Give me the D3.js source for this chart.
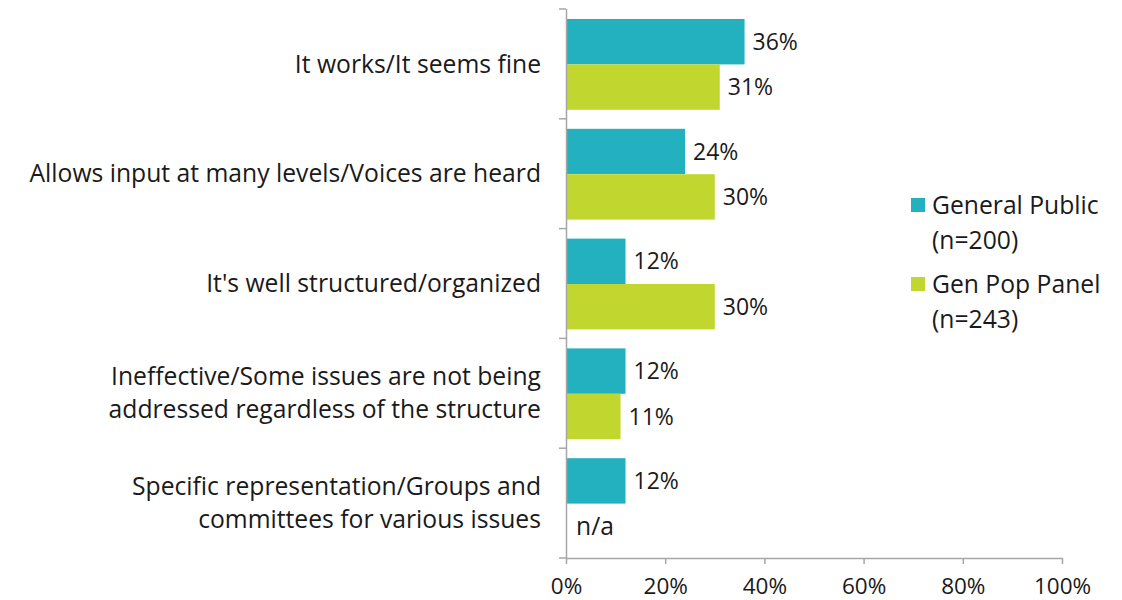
<!DOCTYPE html>
<html>
<head>
<meta charset="utf-8">
<script src="https://cdn.jsdelivr.net/npm/d3@7"></script>
<style>
  html, body { margin: 0; padding: 0; background: #fff; }
  svg text { font-family: "Open Sans", Lato, sans-serif; fill: #1a1a1a; }
</style>
</head>
<body>
<svg id="chart" width="1122" height="600"></svg>
<script>
// Categories (multi-line labels split by "\n")
const categories = [
  "It works/It seems fine",
  "Allows input at many levels/Voices are heard",
  "It's well structured/organized",
  "Ineffective/Some issues are not being\naddressed regardless of the structure",
  "Specific representation/Groups and\ncommittees for various issues"
];
const seriesNames = ["General Public\n(n=200)", "Gen Pop Panel\n(n=243)"];
const generalPublic = [36, 24, 12, 12, 12];
const genPopPanel = [31, 30, 30, 11, null];
const xTicks = [0, 20, 40, 60, 80, 100];
const colors = ["#23b1bf", "#c1d72f"];

const svg = d3.select("#chart");
const textSize = 24.7;   // category and legend text
const numSize = 23;      // value labels
const tickSize = 22.5;   // axis tick labels

const x = d3.scaleLinear().domain([0, 100]).range([566, 1062]);
const y = d3.scaleBand().domain(d3.range(categories.length)).range([9, 558]).paddingInner(0).paddingOuter(0);
const sub = d3.scaleBand().domain([0, 1]).range([10, y.bandwidth() - 9]);

const series = [generalPublic, genPopPanel];

// Bars
series.forEach((vals, si) => {
  const g = svg.append("g");
  vals.forEach((v, i) => {
    const yy = y(i) + sub(si);
    if (v == null) {
      g.append("text")
        .attr("x", x(0) + 10)
        .attr("y", yy + sub.bandwidth() / 2)
        .attr("dy", "0.35em")
        .attr("font-size", textSize)
        .text("n/a");
      return;
    }
    g.append("rect")
      .attr("x", x(0))
      .attr("y", yy)
      .attr("width", x(v) - x(0))
      .attr("height", sub.bandwidth())
      .attr("fill", colors[si]);
    g.append("text")
      .attr("x", x(v) + 8)
      .attr("y", yy + sub.bandwidth() / 2)
      .attr("dy", "0.35em")
      .attr("font-size", numSize)
      .text(v + "%");
  });
});

// Y axis line with ticks at band boundaries
const axisColor = "#a6a6a6";
svg.append("line")
  .attr("x1", x(0) + 0.5).attr("x2", x(0) + 0.5)
  .attr("y1", y(0)).attr("y2", 558)
  .attr("stroke", axisColor).attr("stroke-width", 1.5);
d3.range(categories.length + 1).forEach(i => {
  const yy = i < categories.length ? y(i) : 558;
  svg.append("line")
    .attr("x1", x(0) - 7).attr("x2", x(0))
    .attr("y1", yy).attr("y2", yy)
    .attr("stroke", axisColor).attr("stroke-width", 1.5);
});

// X axis
const xAxis = d3.axisBottom(x)
  .tickValues(xTicks)
  .tickFormat(d => d + "%")
  .tickSizeInner(6)
  .tickSizeOuter(0)
  .tickPadding(14);
const gx = svg.append("g").attr("transform", "translate(0,558)").call(xAxis);
gx.select(".domain").attr("stroke", axisColor).attr("stroke-width", 1.5);
gx.selectAll(".tick line").attr("stroke", axisColor).attr("stroke-width", 1.5);
gx.selectAll(".tick text")
  .attr("font-size", tickSize)
  .attr("font-family", "'Open Sans', Lato, sans-serif")
  .attr("fill", "#1a1a1a");

// Category labels
const lineH = 33;
categories.forEach((c, i) => {
  const lines = c.split("\n");
  const cy = y(i) + y.bandwidth() / 2;
  const t = svg.append("text")
    .attr("text-anchor", "end")
    .attr("font-size", textSize);
  lines.forEach((ln, k) => {
    t.append("tspan")
      .attr("x", 541)
      .attr("y", cy + (k - (lines.length - 1) / 2) * lineH)
      .attr("dy", "0.35em")
      .text(ln);
  });
});

// Legend
const legendY = [205, 284];
seriesNames.forEach((name, si) => {
  svg.append("rect")
    .attr("x", 911).attr("y", legendY[si] - 7)
    .attr("width", 14).attr("height", 14)
    .attr("fill", colors[si]);
  const t = svg.append("text").attr("font-size", textSize);
  name.split("\n").forEach((ln, k) => {
    t.append("tspan")
      .attr("x", 932)
      .attr("y", legendY[si] + k * 35)
      .attr("dy", "0.35em")
      .text(ln);
  });
});
</script>
</body>
</html>
